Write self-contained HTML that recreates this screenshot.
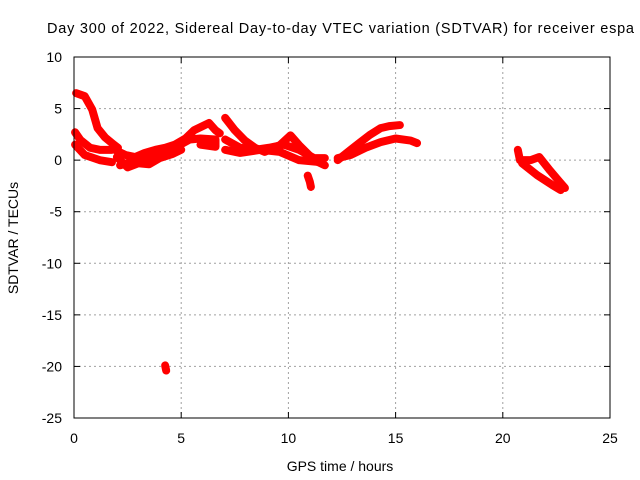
<!DOCTYPE html>
<html><head><meta charset="utf-8"><style>
body{margin:0;background:#fff}
svg{display:block;font-family:"Liberation Sans",sans-serif;font-size:14px}
</style></head><body>
<svg id="chart" width="640" height="480">
<rect width="640" height="480" fill="#fff"/>
<g id="grid"></g>
<g id="tracks"></g>
<rect x="74" y="57" width="536" height="361" fill="none" stroke="#000" stroke-width="1"/>
<g id="ticks"></g>
<text x="47" y="33" textLength="587" lengthAdjust="spacing" style="font-size:14.5px">Day 300 of 2022, Sidereal Day-to-day VTEC variation (SDTVAR) for receiver espa</text>
<text x="340" y="471" text-anchor="middle">GPS time / hours</text>
<text transform="translate(18,238) rotate(-90)" text-anchor="middle">SDTVAR / TECUs</text>
</svg>
<script>
const xTicks=[0,5,10,15,20,25];
const yTicks=[10,5,0,-5,-10,-15,-20,-25];
const trackA=[[0.1,6.5],[0.5,6.2],[0.85,4.9],[1.1,3.1],[1.45,2.2],[1.86,1.5],[2.05,1.2]];
const trackB=[[0.05,2.7],[0.3,1.95],[0.75,1.2],[1.2,1.0],[1.77,1.0]];
const trackC=[[0.05,1.5],[0.5,0.5],[1.2,0],[1.77,-0.2]];
const trackD=[[1.9,1.0],[2.4,0.5],[2.85,0.3],[3.3,0.7],[3.8,1.0],[4.25,1.2],[4.7,1.5],[5.2,2.1],[5.6,2.9],[6.3,3.6],[6.6,2.9],[6.8,2.6]];
const trackE=[[2.15,-0.5],[2.6,-0.2],[3.1,0],[3.55,0.2],[4.0,0.5],[4.5,1.0],[4.95,1.5],[5.4,2.0],[5.9,2.1],[6.6,2.0],[6.6,1.3],[5.9,1.5]];
const trackO=[[2.0,0.3],[2.5,-0.7],[3.0,-0.3],[3.5,-0.4],[4.0,0.2],[4.6,0.6],[5.0,1.0]];
const trackF=[[7.05,4.1],[7.5,2.9],[7.97,1.9],[8.44,1.2],[8.9,0.8],[9.6,1.45],[10.1,2.4],[10.5,1.45],[11.2,0],[11.7,-0.5]];
const trackG=[[7.05,2.0],[7.75,1.2],[8.44,1.0],[9.1,1.2],[9.8,1.5],[10.5,1.0],[11.2,0.2],[11.7,0.2]];
const trackH=[[7.05,1.0],[7.75,0.7],[8.7,1.0],[9.6,0.8],[10.5,0],[11.5,-0.2]];
const trackK=[[10.9,-1.5],[11.0,-2.1],[11.05,-2.6]];
const trackL=[[4.25,-19.9],[4.3,-20.4]];
const trackI=[[12.3,0],[12.9,1.0],[13.3,1.65],[13.8,2.45],[14.3,3.1],[14.7,3.3],[15.2,3.4]];
const trackJ=[[12.3,0.2],[12.9,0.5],[13.6,1.2],[14.3,1.75],[15.0,2.1],[15.7,1.9],[16.0,1.65]];
const trackM=[[20.7,1.0],[20.8,0],[21.3,0],[21.7,0.3],[22.2,-1.0],[22.65,-2.1],[22.9,-2.7]];
const trackN=[[20.9,-0.3],[21.6,-1.45],[22.3,-2.4],[22.7,-2.9]];
const tracks=[trackA,trackB,trackC,trackD,trackE,trackO,trackF,trackG,trackH,trackK,trackL,trackI,trackJ,trackM,trackN];
const NS="http://www.w3.org/2000/svg";
const X=h=>74+h*536/25, Y=v=>57+(10-v)*361/35;
const grid=document.getElementById('grid'),tk=document.getElementById('ticks'),tr=document.getElementById('tracks');
function mk(tag,at,parent){const e=document.createElementNS(NS,tag);for(const k in at)e.setAttribute(k,at[k]);parent.appendChild(e);return e;}
xTicks.forEach(t=>{
 const x=X(t);
 if(t>0&&t<25){const g=mk('line',{x1:x,x2:x,y1:57,y2:418,stroke:'#a0a0a0','stroke-dasharray':'2,3'},grid);
 
 }
 mk('line',{x1:x,x2:x,y1:418,y2:412,stroke:'#000'},tk);
 mk('line',{x1:x,x2:x,y1:57,y2:63,stroke:'#000'},tk);
 const l=mk('text',{x:x,y:443,'text-anchor':'middle'},tk);l.textContent=t;
 
 
});
yTicks.forEach(t=>{
 const y=Y(t);
 if(t<10&&t>-25){const g=mk('line',{x1:74,x2:610,y1:y,y2:y,stroke:'#a0a0a0','stroke-dasharray':'2,3'},grid);
 
 }
 mk('line',{x1:74,x2:80,y1:y,y2:y,stroke:'#000'},tk);
 mk('line',{x1:610,x2:604,y1:y,y2:y,stroke:'#000'},tk);
 const l=mk('text',{x:62,y:y+5,'text-anchor':'end'},tk);l.textContent=t;
 
 
});
tracks.forEach(t=>{
 const p=mk('polyline',{points:t.map(d=>X(d[0])+','+Y(d[1])).join(' '),fill:'none',stroke:'#ff0000','stroke-width':8,'stroke-linejoin':'round','stroke-linecap':'round'},tr);
 
 
});
</script>
</body></html>
